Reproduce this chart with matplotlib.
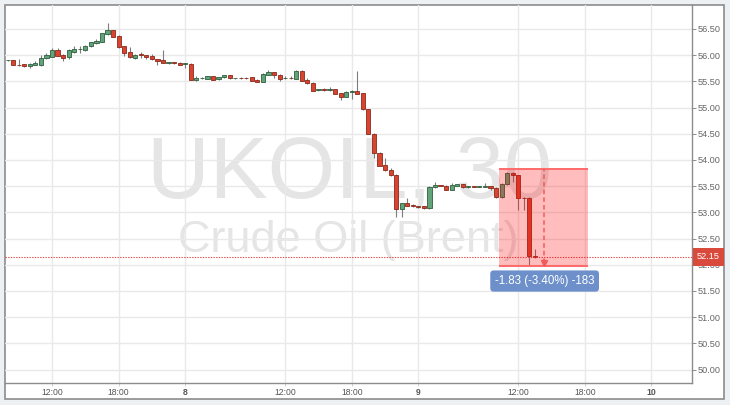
import matplotlib
matplotlib.use("Agg")
import matplotlib.pyplot as plt
from matplotlib.patches import Rectangle
from matplotlib.transforms import blended_transform_factory

plt.rcParams["font.family"] = ["Liberation Sans", "DejaVu Sans"]

# 30-minute candles, x = candle index (0 = 12:00 on the 7th)
idx = list(range(-8, 88))
opens = [55.90, 55.90, 55.82, 55.83, 55.79, 55.82, 55.81, 55.94, 55.97, 56.10,
         56.00, 55.96, 56.07, 56.11, 56.10, 56.17, 56.23, 56.26, 56.40, 56.48,
         56.37, 56.17, 56.06, 55.95, 56.02, 56.00, 55.98, 55.92, 55.90, 55.85,
         55.86, 55.86, 55.83, 55.84, 55.53, 55.56, 55.55, 55.60, 55.54, 55.58,
         55.62, 55.56, 55.57, 55.57, 55.58, 55.53, 55.49, 55.63, 55.67, 55.63,
         55.56, 55.57, 55.55, 55.70, 55.52, 55.47, 55.33, 55.35, 55.34, 55.35,
         55.27, 55.21, 55.30, 55.32, 55.27, 54.97, 54.50, 54.14, 53.90, 53.80,
         53.72, 53.06, 53.17, 53.15, 53.12, 53.12, 53.08, 53.48, 53.52, 53.50,
         53.43, 53.51, 53.54, 53.48, 53.50, 53.49, 53.49, 53.50, 53.47, 53.29,
         53.54, 53.75, 53.71, 53.28, 53.28, 52.17]
highs = [55.91, 55.91, 55.92, 55.84, 55.85, 55.88, 56.01, 56.04, 56.14, 56.14,
         56.03, 56.11, 56.18, 56.18, 56.19, 56.26, 56.30, 56.43, 56.61, 56.49,
         56.38, 56.18, 56.16, 56.03, 56.06, 56.01, 56.03, 55.93, 56.09, 55.87,
         55.87, 55.87, 55.85, 55.85, 55.60, 55.58, 55.61, 55.61, 55.59, 55.63,
         55.63, 55.57, 55.58, 55.58, 55.59, 55.54, 55.66, 55.72, 55.68, 55.65,
         55.60, 55.60, 55.71, 55.71, 55.56, 55.48, 55.36, 55.38, 55.39, 55.36,
         55.28, 55.31, 55.33, 55.69, 55.28, 54.98, 54.51, 54.15, 54.04, 53.84,
         53.73, 53.18, 53.28, 53.16, 53.13, 53.13, 53.50, 53.58, 53.53, 53.52,
         53.56, 53.55, 53.55, 53.51, 53.51, 53.51, 53.56, 53.51, 53.48, 53.56,
         53.78, 53.77, 53.72, 53.29, 53.29, 52.31]
lows = [55.89, 55.81, 55.79, 55.78, 55.75, 55.81, 55.79, 55.93, 55.96, 55.98,
        55.89, 55.92, 56.05, 56.05, 56.08, 56.16, 56.22, 56.25, 56.38, 56.34,
        56.14, 55.99, 55.95, 55.93, 55.95, 55.93, 55.90, 55.82, 55.85, 55.83,
        55.84, 55.81, 55.76, 55.52, 55.51, 55.55, 55.54, 55.52, 55.53, 55.57,
        55.55, 55.55, 55.55, 55.55, 55.50, 55.48, 55.48, 55.62, 55.57, 55.51,
        55.54, 55.54, 55.54, 55.50, 55.45, 55.31, 55.31, 55.32, 55.32, 55.25,
        55.14, 55.20, 55.17, 55.25, 54.96, 54.49, 54.03, 53.88, 53.79, 53.70,
        52.91, 52.91, 53.12, 53.10, 53.09, 53.07, 53.07, 53.47, 53.50, 53.42,
        53.42, 53.50, 53.47, 53.47, 53.48, 53.48, 53.48, 53.42, 53.28, 53.28,
        53.53, 53.58, 53.05, 53.05, 51.98, 52.13]
closes = [55.90, 55.82, 55.81, 55.79, 55.83, 55.85, 55.95, 56.00, 56.10, 55.99,
          55.95, 56.09, 56.12, 56.12, 56.18, 56.25, 56.28, 56.42, 56.48, 56.35,
          56.16, 56.04, 55.96, 56.01, 56.00, 55.96, 55.92, 55.88, 55.86, 55.86,
          55.85, 55.82, 55.84, 55.53, 55.57, 55.57, 55.60, 55.53, 55.58, 55.62,
          55.56, 55.57, 55.56, 55.56, 55.51, 55.49, 55.65, 55.67, 55.62, 55.55,
          55.57, 55.56, 55.70, 55.51, 55.46, 55.32, 55.35, 55.34, 55.36, 55.26,
          55.21, 55.30, 55.32, 55.26, 54.97, 54.50, 54.14, 53.89, 53.80, 53.71,
          53.06, 53.17, 53.13, 53.12, 53.10, 53.08, 53.49, 53.52, 53.51, 53.43,
          53.52, 53.54, 53.48, 53.50, 53.49, 53.50, 53.50, 53.47, 53.29, 53.55,
          53.76, 53.71, 53.27, 53.27, 52.17, 52.15]

tick_pos = [0, 12, 24, 42, 54, 66, 84, 96, 108]
tick_labels = ["12:00", "18:00", "8", "12:00", "18:00", "9", "12:00", "18:00", "10"]
day_labels = {"8", "9", "10"}
y_ticks = [50.0, 50.5, 51.0, 51.5, 52.0, 52.5, 53.0, 53.5, 54.0, 54.5, 55.0, 55.5, 56.0, 56.5]

last_price = 52.15
box_x = [80.54, 96.6]
box_y = [51.98, 53.83]
measure_x = 88.6
measure_text = "-1.83 (-3.40%) -183"

UP_FILL, UP_EDGE = "#63a37a", "#2e5e3e"
DN_FILL, DN_EDGE = "#d8442f", "#8a2a1c"

fig = plt.figure(figsize=(7.3, 4.05), dpi=100, facecolor="#eef1f4")
# white chart panel with grey border, behind the axes
fig.patches.append(Rectangle((5 / 730, 6 / 405), 719 / 730, 394 / 405,
                             transform=fig.transFigure, facecolor="white",
                             edgecolor="#8c8c8c", linewidth=1.2, zorder=-10))
ax = fig.add_axes([5 / 730, 22 / 405, 687 / 730, 378 / 405])
ax.set_facecolor("none")

for i, o, h, l, c in zip(idx, opens, highs, lows, closes):
    up = c >= o
    ax.vlines(i, l, h, color="#7d7d7d", linewidth=0.8, zorder=2)
    bottom = min(o, c)
    height = max(abs(c - o), 0.012)
    ax.bar(i, height, bottom=bottom, width=0.75,
           color=UP_FILL if up else DN_FILL,
           edgecolor=UP_EDGE if up else DN_EDGE, linewidth=0.6, zorder=3)

# watermark
ax.text(0.502, 0.489, "UKOIL, 30", transform=ax.transAxes, ha="center",
        va="baseline", fontsize=62.5, color="#e5e5e5", zorder=0.2)
ax.text(0.500, 0.347, "Crude Oil (Brent)", transform=ax.transAxes, ha="center",
        va="baseline", fontsize=32.5, color="#e5e5e5", zorder=0.2)

# last price line and label
ax.axhline(last_price, color="#e04848", linestyle=(0, (1.2, 1.2)),
           linewidth=0.8, zorder=4)
trans = blended_transform_factory(ax.transAxes, ax.transData)
ax.text(1.0 + 5 / 687, last_price, f"{last_price:.2f}", transform=trans,
        ha="left", va="center", fontsize=6.6, color="white", clip_on=False,
        zorder=6, bbox=dict(boxstyle="square,pad=0.45", fc="#d9493c", ec="none"))

# price range measurement
ax.add_patch(Rectangle((box_x[0], box_y[0]), box_x[1] - box_x[0], box_y[1] - box_y[0],
                       facecolor=(1, 0, 0, 0.26), edgecolor="none", zorder=5))
ax.hlines(box_y, box_x[0], box_x[1], color="#ff6a6a", linewidth=1.4, zorder=5)
ax.vlines(measure_x, box_y[0] + 0.06, box_y[1], color="#f25a5a",
          linestyle=(0, (3, 2)), linewidth=1.1, zorder=5)
ax.plot([measure_x], [box_y[0] + 0.06], marker="v", markersize=4,
        color="#f25a5a", zorder=5)
ax.text(measure_x + 0.15, 51.69, measure_text, ha="center", va="center",
        fontsize=8.3, color="white", zorder=6,
        bbox=dict(boxstyle="round,pad=0.4,rounding_size=0.3", fc="#6d90cb", ec="none"))

ax.set_xlim(-8.47, 115.3)
ax.set_ylim(49.744, 56.958)

ax.yaxis.tick_right()
ax.set_yticks(y_ticks)
ax.set_yticklabels([f"{v:.2f}" for v in y_ticks])
ax.set_xticks(tick_pos)
ax.set_xticklabels(tick_labels)
for lab in ax.get_xticklabels():
    if lab.get_text() in day_labels:
        lab.set_fontweight("bold")
ax.tick_params(axis="y", length=2.6, width=0.7, color="#8c8c8c", pad=1.5,
               labelsize=6.6, labelcolor="#666666")
ax.tick_params(axis="x", length=2.5, width=0.7, color="#d0d0d0", pad=1.2,
               labelsize=6.2, labelcolor="#555555")
ax.grid(True, color="#e9e9e9", linewidth=1.0)
ax.set_axisbelow(True)
for side in ("left", "top"):
    ax.spines[side].set_visible(False)
for side in ("right", "bottom"):
    ax.spines[side].set_color("#8c8c8c")
    ax.spines[side].set_linewidth(1.0)

fig.savefig("out.png", dpi=100, facecolor=fig.get_facecolor())
